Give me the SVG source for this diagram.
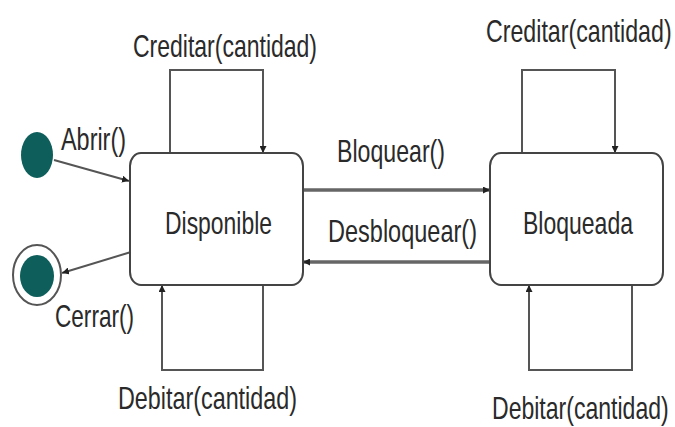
<svg xmlns="http://www.w3.org/2000/svg" width="675" height="427" viewBox="0 0 675 427">
  <defs>
    <marker id="arrow" viewBox="0 0 10 10" refX="10" refY="5" markerWidth="7" markerHeight="7" markerUnits="userSpaceOnUse" orient="auto">
      <path d="M0,0 L10,5 L0,10 z" fill="#222"/>
    </marker>
    <style>
      .state { fill: #ffffff; stroke: #444; stroke-width: 2; }
      .lbl { font-family: "Liberation Sans", Arial, sans-serif; font-size: 32px; fill: #2a2a2a; }
      .edge { fill: none; stroke: #555; stroke-width: 2; marker-end: url(#arrow); }
      .thick { stroke: #666; stroke-width: 3.5; }
      .dot { fill: #0e5f5c; }
    </style>
  </defs>
  <rect width="675" height="427" fill="#ffffff"/>

  <g id="connectors">
    <!-- initial -> Disponible -->
    <line class="edge" x1="54" y1="160" x2="129" y2="181"/>
    <!-- Disponible -> final -->
    <line class="edge" x1="131" y1="252" x2="62" y2="273"/>
    <!-- self loops on Disponible -->
    <polyline class="edge" points="170,153 170,70 263,70 263,153"/>
    <polyline class="edge" points="263,285 263,370 162,370 162,285"/>
    <!-- self loops on Bloqueada -->
    <polyline class="edge" points="522,153 522,70 615,70 615,153"/>
    <polyline class="edge" points="632,285 632,370 529,370 529,285"/>
    <!-- Disponible <-> Bloqueada -->
    <line class="edge thick" x1="303" y1="190" x2="490" y2="190"/>
    <line class="edge thick" x1="490" y1="262" x2="303" y2="262"/>
  </g>

  <g id="initial">
    <ellipse class="dot" cx="37" cy="155" rx="16" ry="23"/>
  </g>

  <g id="final">
    <ellipse cx="37" cy="275" rx="24" ry="30" fill="#ffffff" stroke="#555" stroke-width="2"/>
    <ellipse class="dot" cx="37" cy="276" rx="17" ry="21"/>
  </g>

  <g id="disponible">
    <rect class="state" x="130" y="153" width="173" height="132" rx="11" ry="13"/>
    <text class="lbl" x="165" y="234" textLength="107" lengthAdjust="spacingAndGlyphs">Disponible</text>
  </g>

  <g id="bloqueada">
    <rect class="state" x="490" y="153" width="173" height="132" rx="11" ry="13"/>
    <text class="lbl" x="523" y="234" textLength="110" lengthAdjust="spacingAndGlyphs">Bloqueada</text>
  </g>

  <g id="labels">
    <text class="lbl" x="61" y="150" textLength="65" lengthAdjust="spacingAndGlyphs">Abrir()</text>
    <text class="lbl" x="55" y="327" textLength="79" lengthAdjust="spacingAndGlyphs">Cerrar()</text>
    <text class="lbl" x="133" y="57" textLength="184" lengthAdjust="spacingAndGlyphs">Creditar(cantidad)</text>
    <text class="lbl" transform="translate(486 42) scale(0.725 1)">Creditar(cantidad)</text>
    <text class="lbl" x="118" y="409" textLength="179" lengthAdjust="spacingAndGlyphs">Debitar(cantidad)</text>
    <text class="lbl" transform="translate(492 419) scale(0.72 1)">Debitar(cantidad)</text>
    <text class="lbl" x="337" y="162" textLength="108" lengthAdjust="spacingAndGlyphs">Bloquear()</text>
    <text class="lbl" x="328" y="242" textLength="149" lengthAdjust="spacingAndGlyphs">Desbloquear()</text>
  </g>
</svg>
